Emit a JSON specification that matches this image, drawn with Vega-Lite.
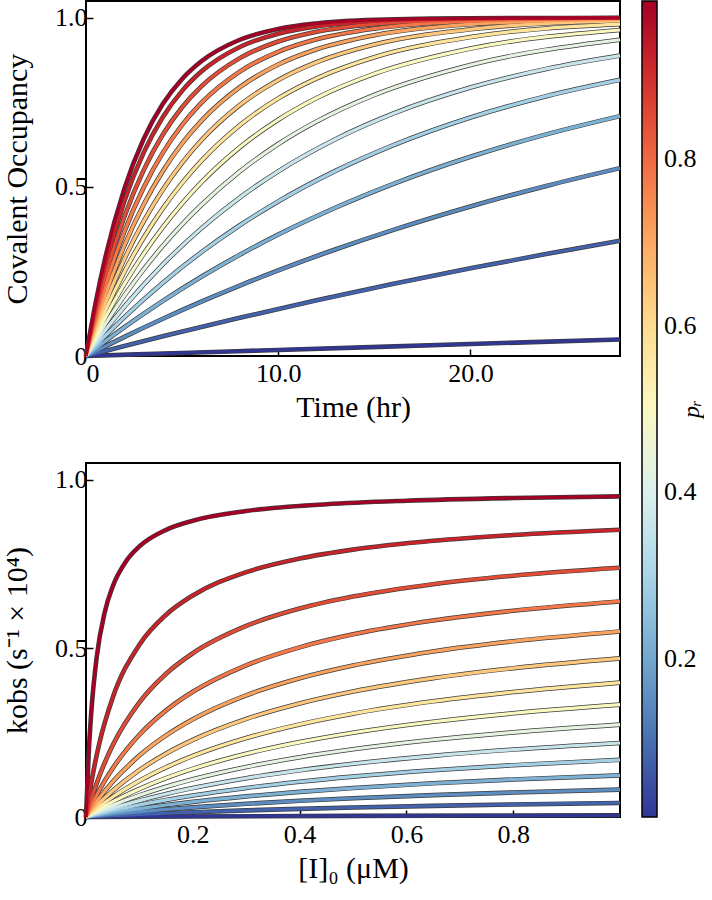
{
  "$schema": "https://vega.github.io/schema/vega-lite/v6.json",
  "padding": {"left": 1, "top": 0, "right": 0, "bottom": 0},
  "background": "white",
  "spacing": 107,
  "bounds": "flush",
  "resolve": {"scale": {"color": "shared"}},
  "config": {
    "font": "Liberation Serif",
    "view": {"stroke": "black", "strokeWidth": 2},
    "axis": {
      "labelFont": "Liberation Serif", "labelFontSize": 26, "labelColor": "black",
      "titleFont": "Liberation Serif", "titleFontSize": 30, "titleFontWeight": "normal", "titleColor": "black",
      "domain": false, "grid": false, "tickColor": "black", "tickWidth": 1.5, "tickSize": -7
    },
    "axisX": {"labelPadding": 11, "titlePadding": 6},
    "axisY": {"labelPadding": 6, "titlePadding": 22}
  },
  "datasets": {
    "occ": [
      {"p":0.01,"t":0,"y":0},{"p":0.01,"t":5,"y":0.009},{"p":0.01,"t":10,"y":0.0179},{"p":0.01,"t":20,"y":0.0355},{"p":0.01,"t":27.78,"y":0.049},
      {"p":0.08,"t":0,"y":0},{"p":0.08,"t":2,"y":0.0296},{"p":0.08,"t":4,"y":0.0582},{"p":0.08,"t":8,"y":0.1131},{"p":0.08,"t":12,"y":0.1647},{"p":0.08,"t":16,"y":0.2134},{"p":0.08,"t":20,"y":0.2592},{"p":0.08,"t":24,"y":0.3023},{"p":0.08,"t":27.78,"y":0.3408},
      {"p":0.15,"t":0,"y":0},{"p":0.15,"t":2,"y":0.0567},{"p":0.15,"t":4,"y":0.1102},{"p":0.15,"t":6,"y":0.1607},{"p":0.15,"t":8,"y":0.2083},{"p":0.15,"t":10,"y":0.2532},{"p":0.15,"t":13,"y":0.3158},{"p":0.15,"t":16,"y":0.3732},{"p":0.15,"t":20,"y":0.4423},{"p":0.15,"t":24,"y":0.5038},{"p":0.15,"t":27.78,"y":0.5557},
      {"p":0.22,"t":0,"y":0},{"p":0.22,"t":1,"y":0.0435},{"p":0.22,"t":2,"y":0.0851},{"p":0.22,"t":4,"y":0.163},{"p":0.22,"t":6,"y":0.2343},{"p":0.22,"t":8,"y":0.2995},{"p":0.22,"t":10,"y":0.3592},{"p":0.22,"t":13,"y":0.4392},{"p":0.22,"t":16,"y":0.5093},{"p":0.22,"t":20,"y":0.5893},{"p":0.22,"t":24,"y":0.6563},{"p":0.22,"t":27.78,"y":0.7095},
      {"p":0.29,"t":0,"y":0},{"p":0.29,"t":1,"y":0.0593},{"p":0.29,"t":2,"y":0.115},{"p":0.29,"t":4,"y":0.2168},{"p":0.29,"t":6,"y":0.3069},{"p":0.29,"t":8,"y":0.3866},{"p":0.29,"t":10,"y":0.4572},{"p":0.29,"t":13,"y":0.5481},{"p":0.29,"t":16,"y":0.6238},{"p":0.29,"t":20,"y":0.7054},{"p":0.29,"t":24,"y":0.7693},{"p":0.29,"t":27.78,"y":0.8168},
      {"p":0.36,"t":0,"y":0},{"p":0.36,"t":1,"y":0.076},{"p":0.36,"t":2,"y":0.1461},{"p":0.36,"t":4,"y":0.2709},{"p":0.36,"t":6,"y":0.3775},{"p":0.36,"t":8,"y":0.4685},{"p":0.36,"t":10,"y":0.5462},{"p":0.36,"t":13,"y":0.6419},{"p":0.36,"t":16,"y":0.7175},{"p":0.36,"t":20,"y":0.794},{"p":0.36,"t":24,"y":0.8498},{"p":0.36,"t":27.78,"y":0.8886},
      {"p":0.43,"t":0,"y":0},{"p":0.43,"t":1,"y":0.0939},{"p":0.43,"t":2,"y":0.179},{"p":0.43,"t":3,"y":0.2561},{"p":0.43,"t":4,"y":0.3259},{"p":0.43,"t":5,"y":0.3892},{"p":0.43,"t":6,"y":0.4466},{"p":0.43,"t":8,"y":0.5456},{"p":0.43,"t":10,"y":0.6269},{"p":0.43,"t":12,"y":0.6937},{"p":0.43,"t":15,"y":0.7721},{"p":0.43,"t":20,"y":0.8608},{"p":0.43,"t":27.78,"y":0.9354},
      {"p":0.5,"t":0,"y":0},{"p":0.5,"t":1,"y":0.1131},{"p":0.5,"t":2,"y":0.2134},{"p":0.5,"t":3,"y":0.3023},{"p":0.5,"t":4,"y":0.3812},{"p":0.5,"t":5,"y":0.4512},{"p":0.5,"t":6,"y":0.5133},{"p":0.5,"t":8,"y":0.6171},{"p":0.5,"t":10,"y":0.6988},{"p":0.5,"t":12,"y":0.7631},{"p":0.5,"t":15,"y":0.8347},{"p":0.5,"t":20,"y":0.9093},{"p":0.5,"t":27.78,"y":0.9643},
      {"p":0.57,"t":0,"y":0},{"p":0.57,"t":1,"y":0.1337},{"p":0.57,"t":2,"y":0.2495},{"p":0.57,"t":3,"y":0.3498},{"p":0.57,"t":4,"y":0.4367},{"p":0.57,"t":5,"y":0.512},{"p":0.57,"t":6,"y":0.5772},{"p":0.57,"t":8,"y":0.6827},{"p":0.57,"t":10,"y":0.7619},{"p":0.57,"t":12,"y":0.8212},{"p":0.57,"t":15,"y":0.8838},{"p":0.57,"t":20,"y":0.9433},{"p":0.57,"t":27.78,"y":0.9814},
      {"p":0.64,"t":0,"y":0},{"p":0.64,"t":0.5,"y":0.0812},{"p":0.64,"t":1,"y":0.1558},{"p":0.64,"t":2,"y":0.2874},{"p":0.64,"t":3,"y":0.3984},{"p":0.64,"t":4,"y":0.4922},{"p":0.64,"t":5,"y":0.5713},{"p":0.64,"t":6,"y":0.6381},{"p":0.64,"t":8,"y":0.7421},{"p":0.64,"t":10,"y":0.8162},{"p":0.64,"t":12,"y":0.869},{"p":0.64,"t":15,"y":0.9212},{"p":0.64,"t":20,"y":0.9662},{"p":0.64,"t":27.78,"y":0.991},
      {"p":0.71,"t":0,"y":0},{"p":0.71,"t":0.5,"y":0.0943},{"p":0.71,"t":1,"y":0.1797},{"p":0.71,"t":2,"y":0.3271},{"p":0.71,"t":3,"y":0.448},{"p":0.71,"t":4,"y":0.5472},{"p":0.71,"t":5,"y":0.6286},{"p":0.71,"t":6,"y":0.6953},{"p":0.71,"t":8,"y":0.795},{"p":0.71,"t":10,"y":0.8621},{"p":0.71,"t":12,"y":0.9072},{"p":0.71,"t":15,"y":0.9488},{"p":0.71,"t":20,"y":0.981},{"p":0.71,"t":27.78,"y":0.9959},
      {"p":0.78,"t":0,"y":0},{"p":0.78,"t":0.5,"y":0.1087},{"p":0.78,"t":1,"y":0.2055},{"p":0.78,"t":2,"y":0.3688},{"p":0.78,"t":3,"y":0.4985},{"p":0.78,"t":4,"y":0.6016},{"p":0.78,"t":5,"y":0.6835},{"p":0.78,"t":6,"y":0.7485},{"p":0.78,"t":8,"y":0.8413},{"p":0.78,"t":10,"y":0.8998},{"p":0.78,"t":12,"y":0.9367},{"p":0.78,"t":15,"y":0.9683},{"p":0.78,"t":20,"y":0.99},{"p":0.78,"t":27.78,"y":0.9983},
      {"p":0.85,"t":0,"y":0},{"p":0.85,"t":0.5,"y":0.1246},{"p":0.85,"t":1,"y":0.2336},{"p":0.85,"t":2,"y":0.4126},{"p":0.85,"t":3,"y":0.5498},{"p":0.85,"t":4,"y":0.655},{"p":0.85,"t":5,"y":0.7356},{"p":0.85,"t":6,"y":0.7974},{"p":0.85,"t":8,"y":0.881},{"p":0.85,"t":10,"y":0.9301},{"p":0.85,"t":12,"y":0.959},{"p":0.85,"t":15,"y":0.9815},{"p":0.85,"t":20,"y":0.9951},{"p":0.85,"t":27.78,"y":0.9994},
      {"p":0.92,"t":0,"y":0},{"p":0.92,"t":0.5,"y":0.1422},{"p":0.92,"t":1,"y":0.2641},{"p":0.92,"t":2,"y":0.4585},{"p":0.92,"t":3,"y":0.6015},{"p":0.92,"t":4,"y":0.7068},{"p":0.92,"t":5,"y":0.7842},{"p":0.92,"t":6,"y":0.8412},{"p":0.92,"t":8,"y":0.914},{"p":0.92,"t":10,"y":0.9534},{"p":0.92,"t":12,"y":0.9748},{"p":0.92,"t":15,"y":0.99},{"p":0.92,"t":20,"y":0.9978},{"p":0.92,"t":27.78,"y":0.9998},
      {"p":0.99,"t":0,"y":0},{"p":0.99,"t":0.5,"y":0.1573},{"p":0.99,"t":1,"y":0.2899},{"p":0.99,"t":2,"y":0.4958},{"p":0.99,"t":3,"y":0.642},{"p":0.99,"t":4,"y":0.7458},{"p":0.99,"t":5,"y":0.8195},{"p":0.99,"t":6,"y":0.8718},{"p":0.99,"t":8,"y":0.9354},{"p":0.99,"t":10,"y":0.9674},{"p":0.99,"t":12,"y":0.9836},{"p":0.99,"t":15,"y":0.9941},{"p":0.99,"t":20,"y":0.9989},{"p":0.99,"t":27.78,"y":0.9999}
    ],
    "kobs": [
      {"p":0.01,"c":0,"k":0},{"p":0.01,"c":0.2,"k":0.0017},{"p":0.01,"c":0.5,"k":0.0034},{"p":0.01,"c":1,"k":0.005},
      {"p":0.08,"c":0,"k":0},{"p":0.08,"c":0.025,"k":0.0021},{"p":0.08,"c":0.05,"k":0.0041},{"p":0.08,"c":0.1,"k":0.0078},{"p":0.08,"c":0.15,"k":0.0112},{"p":0.08,"c":0.2,"k":0.0143},{"p":0.08,"c":0.3,"k":0.0197},{"p":0.08,"c":0.4,"k":0.0242},{"p":0.08,"c":0.5,"k":0.0282},{"p":0.08,"c":0.65,"k":0.0331},{"p":0.08,"c":0.8,"k":0.0372},{"p":0.08,"c":1,"k":0.0417},
      {"p":0.15,"c":0,"k":0},{"p":0.15,"c":0.025,"k":0.0043},{"p":0.15,"c":0.05,"k":0.0083},{"p":0.15,"c":0.1,"k":0.0158},{"p":0.15,"c":0.15,"k":0.0225},{"p":0.15,"c":0.2,"k":0.0286},{"p":0.15,"c":0.3,"k":0.0391},{"p":0.15,"c":0.4,"k":0.048},{"p":0.15,"c":0.5,"k":0.0556},{"p":0.15,"c":0.65,"k":0.065},{"p":0.15,"c":0.8,"k":0.0727},{"p":0.15,"c":1,"k":0.0811},
      {"p":0.22,"c":0,"k":0},{"p":0.22,"c":0.025,"k":0.0068},{"p":0.22,"c":0.05,"k":0.0133},{"p":0.22,"c":0.1,"k":0.025},{"p":0.22,"c":0.15,"k":0.0355},{"p":0.22,"c":0.2,"k":0.0449},{"p":0.22,"c":0.3,"k":0.0611},{"p":0.22,"c":0.4,"k":0.0746},{"p":0.22,"c":0.5,"k":0.0859},{"p":0.22,"c":0.65,"k":0.1},{"p":0.22,"c":0.8,"k":0.1114},{"p":0.22,"c":1,"k":0.1236},
      {"p":0.29,"c":0,"k":0},{"p":0.29,"c":0.025,"k":0.0099},{"p":0.29,"c":0.05,"k":0.0191},{"p":0.29,"c":0.1,"k":0.0358},{"p":0.29,"c":0.15,"k":0.0506},{"p":0.29,"c":0.2,"k":0.0637},{"p":0.29,"c":0.3,"k":0.0861},{"p":0.29,"c":0.4,"k":0.1045},{"p":0.29,"c":0.5,"k":0.1198},{"p":0.29,"c":0.65,"k":0.1386},{"p":0.29,"c":0.8,"k":0.1536},{"p":0.29,"c":1,"k":0.1696},
      {"p":0.36,"c":0,"k":0},{"p":0.36,"c":0.025,"k":0.0135},{"p":0.36,"c":0.05,"k":0.0261},{"p":0.36,"c":0.1,"k":0.0486},{"p":0.36,"c":0.15,"k":0.0684},{"p":0.36,"c":0.2,"k":0.0857},{"p":0.36,"c":0.3,"k":0.1149},{"p":0.36,"c":0.4,"k":0.1385},{"p":0.36,"c":0.5,"k":0.1579},{"p":0.36,"c":0.65,"k":0.1814},{"p":0.36,"c":0.8,"k":0.2},{"p":0.36,"c":1,"k":0.2195},
      {"p":0.43,"c":0,"k":0},{"p":0.43,"c":0.025,"k":0.0181},{"p":0.43,"c":0.05,"k":0.0347},{"p":0.43,"c":0.1,"k":0.0642},{"p":0.43,"c":0.15,"k":0.0896},{"p":0.43,"c":0.2,"k":0.1117},{"p":0.43,"c":0.3,"k":0.1483},{"p":0.43,"c":0.4,"k":0.1773},{"p":0.43,"c":0.5,"k":0.2009},{"p":0.43,"c":0.65,"k":0.2291},{"p":0.43,"c":0.8,"k":0.2511},{"p":0.43,"c":1,"k":0.2739},
      {"p":0.5,"c":0,"k":0},{"p":0.5,"c":0.025,"k":0.0238},{"p":0.5,"c":0.05,"k":0.0455},{"p":0.5,"c":0.1,"k":0.0833},{"p":0.5,"c":0.15,"k":0.1154},{"p":0.5,"c":0.2,"k":0.1429},{"p":0.5,"c":0.3,"k":0.1875},{"p":0.5,"c":0.4,"k":0.2222},{"p":0.5,"c":0.5,"k":0.25},{"p":0.5,"c":0.65,"k":0.2826},{"p":0.5,"c":0.8,"k":0.3077},{"p":0.5,"c":1,"k":0.3333},
      {"p":0.57,"c":0,"k":0},{"p":0.57,"c":0.025,"k":0.0313},{"p":0.57,"c":0.05,"k":0.0594},{"p":0.57,"c":0.1,"k":0.1075},{"p":0.57,"c":0.15,"k":0.1474},{"p":0.57,"c":0.2,"k":0.181},{"p":0.57,"c":0.3,"k":0.2342},{"p":0.57,"c":0.4,"k":0.2747},{"p":0.57,"c":0.5,"k":0.3065},{"p":0.57,"c":0.65,"k":0.3431},{"p":0.57,"c":0.8,"k":0.3707},{"p":0.57,"c":1,"k":0.3986},
      {"p":0.64,"c":0,"k":0},{"p":0.64,"c":0.025,"k":0.0416},{"p":0.64,"c":0.05,"k":0.078},{"p":0.64,"c":0.1,"k":0.1391},{"p":0.64,"c":0.15,"k":0.1882},{"p":0.64,"c":0.2,"k":0.2286},{"p":0.64,"c":0.3,"k":0.2909},{"p":0.64,"c":0.4,"k":0.3368},{"p":0.64,"c":0.5,"k":0.3721},{"p":0.64,"c":0.65,"k":0.4119},{"p":0.64,"c":0.8,"k":0.4414},{"p":0.64,"c":1,"k":0.4706},
      {"p":0.71,"c":0,"k":0},{"p":0.71,"c":0.025,"k":0.0563},{"p":0.71,"c":0.05,"k":0.1044},{"p":0.71,"c":0.1,"k":0.1821},{"p":0.71,"c":0.15,"k":0.242},{"p":0.71,"c":0.2,"k":0.2898},{"p":0.71,"c":0.3,"k":0.361},{"p":0.71,"c":0.4,"k":0.4116},{"p":0.71,"c":0.5,"k":0.4494},{"p":0.71,"c":0.65,"k":0.491},{"p":0.71,"c":0.8,"k":0.5211},{"p":0.71,"c":1,"k":0.5504},
      {"p":0.78,"c":0,"k":0},{"p":0.78,"c":0.025,"k":0.0796},{"p":0.78,"c":0.05,"k":0.1444},{"p":0.78,"c":0.1,"k":0.2438},{"p":0.78,"c":0.15,"k":0.3162},{"p":0.78,"c":0.2,"k":0.3714},{"p":0.78,"c":0.3,"k":0.45},{"p":0.78,"c":0.4,"k":0.5032},{"p":0.78,"c":0.5,"k":0.5417},{"p":0.78,"c":0.65,"k":0.5828},{"p":0.78,"c":0.8,"k":0.6118},{"p":0.78,"c":1,"k":0.6393},
      {"p":0.85,"c":0,"k":0},{"p":0.85,"c":0.01,"k":0.0531},{"p":0.85,"c":0.025,"k":0.1214},{"p":0.85,"c":0.05,"k":0.2125},{"p":0.85,"c":0.1,"k":0.34},{"p":0.85,"c":0.15,"k":0.425},{"p":0.85,"c":0.2,"k":0.4857},{"p":0.85,"c":0.3,"k":0.5667},{"p":0.85,"c":0.4,"k":0.6182},{"p":0.85,"c":0.5,"k":0.6538},{"p":0.85,"c":0.65,"k":0.6906},{"p":0.85,"c":0.8,"k":0.7158},{"p":0.85,"c":1,"k":0.7391},
      {"p":0.92,"c":0,"k":0},{"p":0.92,"c":0.01,"k":0.1022},{"p":0.92,"c":0.025,"k":0.219},{"p":0.92,"c":0.05,"k":0.3538},{"p":0.92,"c":0.1,"k":0.5111},{"p":0.92,"c":0.15,"k":0.6},{"p":0.92,"c":0.2,"k":0.6571},{"p":0.92,"c":0.3,"k":0.7263},{"p":0.92,"c":0.4,"k":0.7667},{"p":0.92,"c":0.5,"k":0.7931},{"p":0.92,"c":0.65,"k":0.8192},{"p":0.92,"c":0.8,"k":0.8364},{"p":0.92,"c":1,"k":0.8519},
      {"p":0.99,"c":0,"k":0},{"p":0.99,"c":0.005,"k":0.1867},{"p":0.99,"c":0.01,"k":0.3132},{"p":0.99,"c":0.02,"k":0.4737},{"p":0.99,"c":0.035,"k":0.6069},{"p":0.99,"c":0.05,"k":0.6838},{"p":0.99,"c":0.075,"k":0.7586},{"p":0.99,"c":0.1,"k":0.8025},{"p":0.99,"c":0.15,"k":0.8518},{"p":0.99,"c":0.2,"k":0.8787},{"p":0.99,"c":0.3,"k":0.9075},{"p":0.99,"c":0.45,"k":0.9277},{"p":0.99,"c":0.6,"k":0.9382},{"p":0.99,"c":0.8,"k":0.9462},{"p":0.99,"c":1,"k":0.951}
    ]
  },
  "vconcat": [
    {
      "width": 534,
      "height": 355,
      "data": {"name": "occ"},
      "encoding": {
        "x": {
          "field": "t", "type": "quantitative",
          "scale": {"domain": [0, 27.78], "nice": false},
          "axis": {"title": "Time (hr)", "values": [0, 10, 20], "labelExpr": "datum.value == 0 ? '0' : format(datum.value, '.1f')"}
        },
        "y": {
          "field": "y", "type": "quantitative",
          "scale": {"domain": [0, 1.05], "nice": false},
          "axis": {"title": "Covalent Occupancy", "values": [0, 0.5, 1], "labelExpr": "datum.value == 0 ? '0' : format(datum.value, '.1f')"}
        },
        "detail": {"field": "p", "type": "nominal"}
      },
      "layer": [
        {"mark": {"type": "line", "interpolate": "monotone", "color": "#3a3a3a", "strokeWidth": 4.6}},
        {
          "mark": {"type": "line", "interpolate": "monotone", "strokeWidth": 3.2},
          "encoding": {
            "color": {
              "field": "p", "type": "quantitative",
              "scale": {"domain": [0.01, 0.99], "scheme": "redyellowblue", "reverse": true},
              "legend": {
                "title": "pᵣ", "orient": "right", "offset": 11, "padding": 0,
                "gradientLength": 816, "gradientThickness": 15,
                "gradientStrokeColor": "black", "gradientStrokeWidth": 1.5,
                "values": [0.2, 0.4, 0.6, 0.8], "format": ".1f",
                "labelFont": "Liberation Serif", "labelFontSize": 26, "labelColor": "black", "labelOffset": 7,
                "titleOrient": "right", "titleAnchor": "middle", "titlePadding": 2,
                "titleFont": "Liberation Serif", "titleFontSize": 24, "titleFontStyle": "italic", "titleFontWeight": "normal", "titleColor": "black",
                "encode": {"title": {"update": {"angle": {"value": -90}, "baseline": {"value": "alphabetic"}}}}
              }
            }
          }
        }
      ]
    },
    {
      "width": 534,
      "height": 354,
      "data": {"name": "kobs"},
      "encoding": {
        "x": {
          "field": "c", "type": "quantitative",
          "scale": {"domain": [0, 1], "nice": false},
          "axis": {"title": "[I]₀ (μM)", "values": [0.2, 0.4, 0.6, 0.8], "format": ".1f"}
        },
        "y": {
          "field": "k", "type": "quantitative",
          "scale": {"domain": [0, 1.05], "nice": false},
          "axis": {"title": "kobs (s⁻¹ × 10⁴)", "values": [0, 0.5, 1], "labelExpr": "datum.value == 0 ? '0' : format(datum.value, '.1f')"}
        },
        "detail": {"field": "p", "type": "nominal"}
      },
      "layer": [
        {"mark": {"type": "line", "interpolate": "monotone", "color": "#3a3a3a", "strokeWidth": 4.6}},
        {
          "mark": {"type": "line", "interpolate": "monotone", "strokeWidth": 3.2},
          "encoding": {
            "color": {"field": "p", "type": "quantitative"}
          }
        }
      ]
    }
  ]
}
